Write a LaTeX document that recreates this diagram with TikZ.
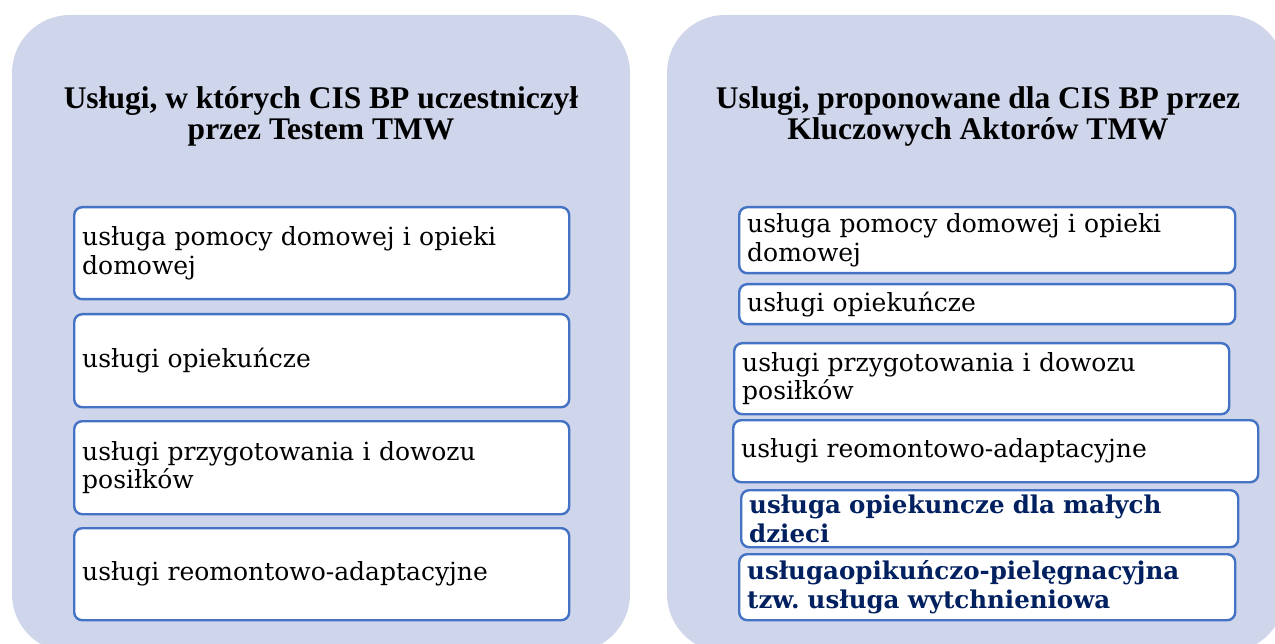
\documentclass[tikz,border=0pt]{standalone}
\usepackage{fontspec}
\setmainfont{DejaVu Serif}
\newfontfamily\headfont{Liberation Serif}
\definecolor{panelfill}{RGB}{207,213,234}
\definecolor{boxline}{RGB}{68,114,196}
\definecolor{navy}{RGB}{0,32,96}
\frenchspacing

\begin{document}
\begin{tikzpicture}[x=1pt, y=-1pt,
    panel/.style={fill=panelfill, rounded corners=58pt},
    heading/.style={font=\headfont\bfseries\fontsize{31.5}{31}\selectfont, align=center},
    item/.style={draw=boxline, line width=2.4pt, fill=white, rounded corners=8pt,
      anchor=north west, align=left, inner xsep=8pt, inner ysep=0pt,
      font=\fontsize{25}{28.5}\selectfont},
    bolditem/.style={item, text=navy, font=\bfseries\fontsize{24.5}{29.5}\selectfont}]
        \useasboundingbox (0,0) rectangle (1275,644);
        % two background panels
        \fill[panel] (12,15) rectangle (630,652);
        \fill[panel] (667,15) rectangle (1285,652);
        \node[heading] (lhead) at (321,116) {Usługi, w których CIS BP uczestniczył\\przez Testem TMW};
        \node[heading] (rhead) at (978,116) {Uslugi, proponowane dla CIS BP przez\\Kluczowych Aktorów TMW};
        % left column
        \node[item, text width=479pt, minimum height=92pt] (l1) at (73,206) {usługa pomocy domowej i opieki\\domowej};
        \node[item, text width=479pt, minimum height=93pt] (l2) at (73,313) {usługi opiekuńcze};
        \node[item, text width=479pt, minimum height=93pt] (l3) at (73,420) {usługi przygotowania i dowozu\\posiłków};
        \node[item, text width=479pt, minimum height=92pt] (l4) at (73,527) {usługi reomontowo-adaptacyjne};
        % right column
        \node[item, text width=480pt, minimum height=66pt] (r1) at (738,206) {usługa pomocy domowej i opieki\\domowej};
        \node[item, text width=480pt, minimum height=40pt] (r2) at (738,283) {usługi opiekuńcze};
        \node[item, text width=479pt, minimum height=71pt] (r3) at (733,342) {usługi przygotowania i dowozu\\posiłków};
        \node[item, text width=509pt, minimum height=62pt] (r4) at (732,419) {usługi reomontowo-adaptacyjne};
        \node[bolditem, text width=481pt, minimum height=57pt] (r5) at (740,489) {usługa opiekuncze dla małych\\dzieci};
        \node[bolditem, text width=480pt, minimum height=66pt] (r6) at (738,553) {usługaopikuńczo-pielęgnacyjna\\tzw. usługa wytchnieniowa};
\end{tikzpicture}
\end{document}
